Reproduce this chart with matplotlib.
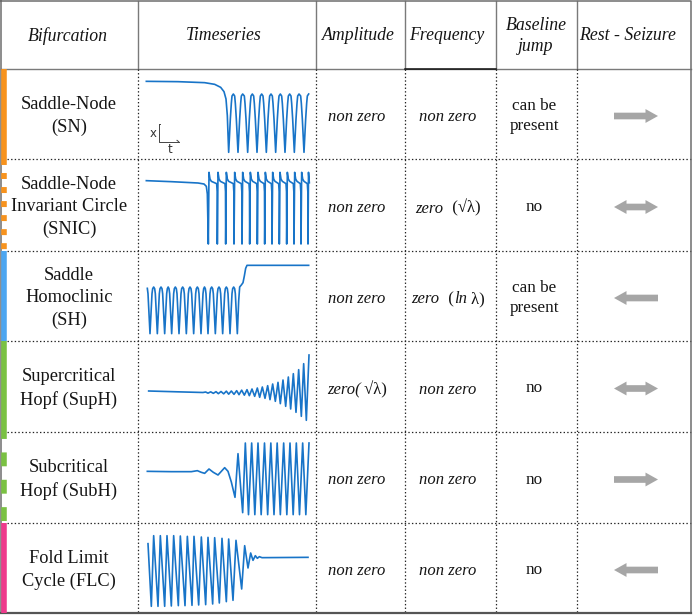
import matplotlib
matplotlib.use("Agg")
import matplotlib.pyplot as plt
from matplotlib.patches import FancyArrowPatch
from matplotlib.offsetbox import TextArea, HPacker, AnnotationBbox

plt.rcParams["lines.scale_dashes"] = False

# ------------------------------------------------------------------ data
headers = ["Bifurcation", "Timeseries", "Amplitude", "Frequency",
           "Baseline\njump", "Rest - Seizure"]
bifurcations = ["Saddle-Node\n(SN)",
                "Saddle-Node\nInvariant Circle\n(SNIC)",
                "Saddle\nHomoclinic\n(SH)",
                "Supercritical\nHopf (SupH)",
                "Subcritical\nHopf (SubH)",
                "Fold Limit\nCycle (FLC)"]
amplitude = [[("non zero", "italic")],
             [("non zero", "italic")],
             [("non zero", "italic")],
             [("zero(", "italic"), (" \u221a\u03bb)", "normal")],
             [("non zero", "italic")],
             [("non zero", "italic")]]
frequency = [[("non zero", "italic")],
             [("zero", "italic"), ("  (\u221a\u03bb)", "normal")],
             [("zero", "italic"), ("  (", "normal"), ("ln", "italic"), (" \u03bb)", "normal")],
             [("non zero", "italic")],
             [("non zero", "italic")],
             [("non zero", "italic")]]
baseline_jump = ["can be\npresent", "no", "can be\npresent", "no", "no", "no"]
rest_seizure = ["right", "both", "left", "both", "right", "left"]

# timeseries (t, x)
sn_t = [25, 120, 200, 230, 248, 258, 264, 268, 272,
        277, 280, 282, 286, 290, 292, 295, 300,
        305, 308, 310, 314, 319, 321, 324, 329,
        334, 337, 339, 343, 347, 349, 352, 357,
        362, 365, 367, 371, 375, 377, 380, 385,
        390, 393, 395, 399, 403, 405, 408, 413,
        418, 421, 423, 427, 431, 433, 436, 441,
        446, 449, 451, 455, 459, 461, 464, 469,
        474, 477, 479, 483, 488, 490, 493, 498,
        503, 506, 508, 512]
sn_x = [236, 235, 232, 227, 218, 205, 183, 133, 23,
        123, 170, 192, 198, 192, 170, 123, 23,
        123, 170, 192, 198, 192, 170, 123, 23,
        123, 170, 192, 198, 192, 170, 123, 23,
        123, 170, 192, 198, 192, 170, 123, 23,
        123, 170, 192, 198, 192, 170, 123, 23,
        123, 170, 192, 198, 192, 170, 123, 23,
        123, 170, 192, 198, 192, 170, 123, 23,
        123, 170, 192, 198, 192, 170, 123, 23,
        123, 170, 192, 198]

snic_t = [25, 100, 180, 198, 205, 208, 211,
          213, 216, 220, 236, 237.5, 238,
          240, 243, 247, 261, 262.5, 263,
          265, 268, 272, 286, 287.5, 288,
          290, 293, 297, 310, 311.5, 312,
          314, 317, 321, 333, 334.5, 335,
          337, 340, 344, 356, 357.5, 358,
          360, 363, 367, 378, 379.5, 380,
          382, 385, 389, 400, 401.5, 402,
          404, 407, 411, 422, 423.5, 424,
          426, 429, 433, 444, 445.5, 446,
          448, 451, 455, 466, 467.5, 468,
          470, 473, 477, 487, 488.5, 489,
          491, 494, 498, 508, 509.5, 510,
          511.5, 514]
snic_x = [208, 205, 201, 198, 191, 168, 18,
          233, 213, 206, 199, 175, 18,
          233, 213, 206, 199, 175, 18,
          233, 213, 206, 199, 175, 18,
          233, 213, 206, 199, 175, 18,
          233, 213, 206, 199, 175, 18,
          233, 213, 206, 199, 175, 18,
          233, 213, 206, 199, 175, 18,
          233, 213, 206, 199, 175, 18,
          233, 213, 206, 199, 175, 18,
          233, 213, 206, 199, 175, 18,
          233, 213, 206, 199, 175, 18,
          233, 213, 206, 199, 175, 18,
          233, 213, 206, 199, 175, 18,
          233, 202]

sh_t = [28, 30, 32, 36,
        40, 42, 44, 47, 50, 52, 54, 58,
        62, 64, 66, 69, 72, 74, 76, 80,
        84, 86, 88, 90.5, 93, 95, 97, 101,
        105, 107, 109, 112, 115, 117, 119, 123,
        127, 129, 131, 134, 137, 139, 141, 145,
        149, 151, 153, 156, 159, 161, 163, 167,
        171, 173, 175, 178, 181, 183, 185, 189,
        193, 195, 197, 199.5, 202, 204, 206, 210,
        214, 216, 218, 221, 224, 226, 228, 232,
        236, 238, 240, 243, 246, 248, 250, 254,
        258, 260, 262, 265, 268, 270, 272, 276,
        280, 282, 284, 287, 290, 292, 294, 298,
        302, 305, 310, 315, 319, 323, 327, 512]
sh_x = [161, 145, 105, 25,
        105, 145, 160, 165, 160, 145, 105, 25,
        105, 145, 160, 165, 160, 145, 105, 25,
        105, 145, 160, 165, 160, 145, 105, 25,
        105, 145, 160, 165, 160, 145, 105, 25,
        105, 145, 160, 165, 160, 145, 105, 25,
        105, 145, 160, 165, 160, 145, 105, 25,
        105, 145, 160, 165, 160, 145, 105, 25,
        105, 145, 160, 165, 160, 145, 105, 25,
        105, 145, 160, 165, 160, 145, 105, 25,
        105, 145, 160, 165, 160, 145, 105, 25,
        105, 145, 160, 165, 160, 145, 105, 25,
        105, 145, 160, 165, 160, 145, 105, 25,
        123, 165, 171, 178, 198, 221, 230, 230]

suph_t = [32, 120, 195,
          203, 210, 218, 226, 234, 241, 249, 257, 265, 272, 280, 288, 296, 303,
          311, 319, 327, 334, 342, 350, 358, 365, 373, 381, 389, 396, 404, 412,
          420, 427, 435, 443, 451, 458, 466, 474, 482, 490, 497, 505, 513]
suph_x = [123, 120.5, 118.5,
          120, 116.5, 120.5, 116, 121, 115, 121.5, 114.5, 122.5, 113.5, 123, 113,
          124, 112, 125.5, 110.5, 127, 109, 129, 107, 132, 104, 135, 101, 139, 97,
          144, 92, 149, 85, 156, 77, 165, 69, 175, 59, 187, 47, 205, 35, 231]

subh_t = [28, 100, 160, 178, 190, 200, 213, 226, 240, 250,
          260, 270, 280, 291, 300, 314, 322, 331.5, 341, 350.5,
          360, 369.5, 379.5, 389, 398.5, 408, 417.5, 427, 437, 446.5,
          456, 465.5, 475, 484.5, 494, 503.5, 513]
subh_x = [155, 154, 154, 157, 152, 149, 162, 152, 144, 155,
          166, 155, 123, 77, 208, 31, 240, 25, 240, 25,
          240, 25, 240, 25, 240, 25, 240, 25, 240, 25,
          240, 25, 240, 25, 240, 25, 240]

flc_t = [30, 40, 47, 60, 67, 80, 87, 100, 107, 121,
         127, 141, 148, 162, 168, 182, 190, 203, 210, 224,
         230, 244, 252, 265, 272, 285, 294, 311, 320, 330,
         338, 345, 352, 358, 364, 372, 510]
flc_x = [211, 23, 235, 23, 235, 23, 235, 24, 235, 25,
         234, 25, 233, 26, 233, 27, 231, 28, 230, 30,
         229, 33, 227, 37, 225, 41, 221, 75, 205, 138,
         183, 161, 175, 167, 172, 169, 170]

timeseries = [(sn_t, sn_x), (snic_t, snic_x), (sh_t, sh_x),
              (suph_t, suph_x), (subh_t, subh_x), (flc_t, flc_x)]

# ------------------------------------------------------------------ style
bar_colors = ["#F7931E", "#F7931E", "#4DA6F0", "#7AC143", "#7AC143", "#EE3A8C"]
bar_styles = ["-", (0, (4.3, 5.8)), "-", "-", (5.0, (10.0, 9.7)), "-"]
ts_blue = "#1874C8"
arrow_gray = "#A6A6A6"
text_col = "#151515"
serif = "Liberation Serif"

W, H = 693, 615
col_x = [1, 138, 316, 405, 496, 577, 691]
row_y = [1, 69, 159, 251, 341, 432, 523, 613]
head_cx = [68, 224, 358, 447, 536, 628]
body_cx = [69, 227, 357, 448, 534, 636]

fig = plt.figure(figsize=(W / 100, H / 100), dpi=100)
ax = fig.add_axes([0, 0, 1, 1])
ax.set_xlim(0, W)
ax.set_ylim(H, 0)
ax.axis("off")

# grid: header solid, body dotted
grid_gray = "#7a7a7a"
for x in col_x[1:-1]:
    ax.plot([x, x], [row_y[0], row_y[1]], color=grid_gray, lw=1.0)
ax.plot([col_x[0], col_x[-1]], [row_y[1], row_y[1]], color=grid_gray, lw=1.0)
ax.plot([col_x[3], col_x[4]], [row_y[1], row_y[1]], color="#111111", lw=1.1)
for x in col_x[1:-1]:
    ax.plot([x, x], [row_y[1], row_y[-1]], color="#222222", lw=0.9,
            linestyle=(0, (1.0, 1.6)))
for y in row_y[2:-1]:
    ax.plot([7, col_x[-1]], [y, y], color="#222222", lw=0.9,
            linestyle=(0, (1.0, 1.6)))
ax.plot([col_x[0], col_x[-1], col_x[-1], col_x[0], col_x[0]],
        [row_y[0], row_y[0], row_y[-1], row_y[-1], row_y[0]],
        color="#6d6d6d", lw=1.1)
ax.plot([col_x[0], col_x[-1]], [row_y[-1], row_y[-1]], color="#555555", lw=1.6)

# colour bars
for i in range(6):
    y0, y1 = row_y[i + 1], row_y[i + 2]
    ax.plot([4.3, 4.3], [y0, y1], color=bar_colors[i], lw=4.0,
            linestyle=bar_styles[i], solid_capstyle="butt", dash_capstyle="butt")

# header texts
for cx, h in zip(head_cx, headers):
    ax.text(cx, 36, h, ha="center", va="center", family=serif, style="italic",
            size=12.8, color=text_col, linespacing=1.3)


def rich(x, y, parts, size=12):
    boxes = [TextArea(s, textprops=dict(family=serif, style=st, size=size,
                                         color=text_col)) for s, st in parts]
    pack = HPacker(children=boxes, align="baseline", pad=0, sep=0)
    ab = AnnotationBbox(pack, (x, y), xycoords="data", frameon=False,
                        box_alignment=(0.5, 0.5), pad=0)
    ax.add_artist(ab)


def arrow(x0, x1, y):
    ax.add_patch(FancyArrowPatch((x0, y), (x1, y),
                                 arrowstyle="simple,head_length=9,head_width=10,tail_width=4.8",
                                 color=arrow_gray, lw=0, shrinkA=0, shrinkB=0,
                                 mutation_scale=1))


for i in range(6):
    yc = (row_y[i + 1] + row_y[i + 2]) / 2
    ax.text(body_cx[0], yc + 2, bifurcations[i], ha="center", va="center",
            family=serif, size=13.2, color=text_col, linespacing=1.4)
    rich(body_cx[2], yc + 3, amplitude[i])
    rich(body_cx[3], yc + 3, frequency[i])
    ax.text(body_cx[4], yc + 2, baseline_jump[i], ha="center", va="center",
            family=serif, size=12.3, color=text_col, linespacing=1.3)
    ya = yc + 2
    if rest_seizure[i] == "right":
        arrow(614, 658, ya)
    elif rest_seizure[i] == "left":
        arrow(658, 614, ya)
    else:
        arrow(636, 658, ya)
        arrow(636, 614, ya)

# timeseries cells
for i, (t, x) in enumerate(timeseries):
    y0 = row_y[i + 1]
    iax = fig.add_axes([col_x[1] / W, 1 - (y0 + 91) / H, 178 / W, 91 / H])
    iax.set_xlim(0, 534)
    iax.set_ylim(0, 273)
    iax.axis("off")
    iax.plot(t, x, color=ts_blue, lw=1.2)
    if i == 0:
        iax.plot([62, 62, 122], [108, 55, 55], color="#444444", lw=0.7)
        iax.plot([62, 67], [108, 108], color="#444444", lw=0.7)
        iax.plot([117, 122], [59, 55], color="#444444", lw=0.7)
        iax.text(44, 80, "x", ha="center", va="center", size=8.5, color="#333333")
        iax.text(95, 32, "t", ha="center", va="center", size=8.5, color="#333333")

fig.savefig("out.png", dpi=100)
